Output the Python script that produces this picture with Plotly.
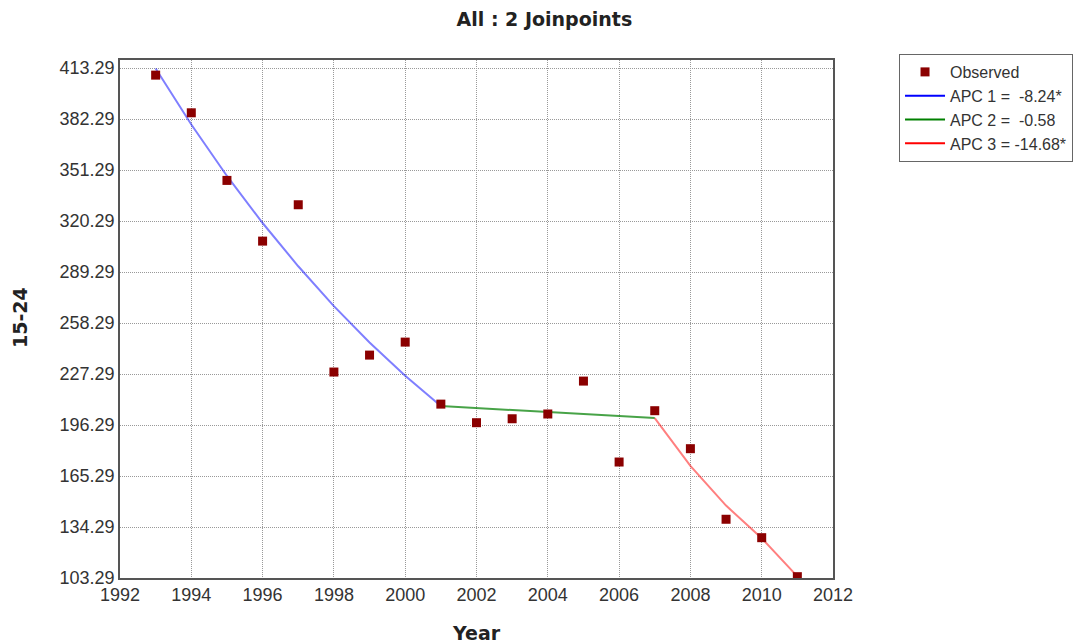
import plotly.graph_objects as go

# Observed rates for ages 15-24
years = list(range(1993, 2012))
observed = [409.0, 386.1, 345.0, 308.1, 330.2, 228.5, 238.8, 246.7, 209.0,
            197.7, 200.1, 203.0, 223.0, 173.8, 205.0, 181.9, 139.0, 127.8, 104.1]

# Joinpoint model segments (fitted values per year)
seg1_years = list(range(1993, 2002))
seg1_fit = [413.0, 379.0, 347.7, 319.1, 292.8, 268.6, 246.5, 226.2, 207.8]
seg2_years = list(range(2001, 2008))
seg2_fit = [207.8, 206.6, 205.4, 204.2, 203.0, 201.8, 200.5]
seg3_years = list(range(2007, 2012))
seg3_fit = [200.5, 171.5, 147.3, 127.5, 104.3]

apc_labels = ["APC 1 =  -8.24*", "APC 2 =  -0.58", "APC 3 = -14.68*"]
apc_colors = ["#0000ff", "#008000", "#ff0000"]
seg_colors = ["rgba(0,0,255,0.5)", "rgba(0,128,0,0.72)", "rgba(255,0,0,0.5)"]

y_ticks = [103.29 + 31 * k for k in range(11)]
x_ticks = list(range(1992, 2013, 2))

fig = go.Figure()

segments = [(seg1_years, seg1_fit), (seg2_years, seg2_fit), (seg3_years, seg3_fit)]
for (sx, sy), col in zip(segments, seg_colors):
    fig.add_trace(go.Scatter(x=sx, y=sy, mode="lines", line=dict(color=col, width=2),
                             showlegend=False, hoverinfo="skip"))

fig.add_trace(go.Scatter(x=years, y=observed, mode="markers", name="Observed",
                         marker=dict(symbol="square", size=9, color="#8b0000")))

# legend entries for the segment lines
for label, col in zip(apc_labels, apc_colors):
    fig.add_trace(go.Scatter(x=[None], y=[None], mode="lines", name=label,
                             line=dict(color=col, width=2)))

axis_font = dict(family="Liberation Sans, Arial, sans-serif", size=18, color="#333333")
bold_font = dict(family="DejaVu Sans, Verdana, sans-serif", size=19, color="#222222")
grid = dict(showgrid=True, gridcolor="#999999", griddash="1px,1px", gridwidth=1,
            showline=True, linecolor="#555555", linewidth=1.5, mirror=True,
            ticks="", tickfont=axis_font, zeroline=False)

fig.update_layout(
    width=1078, height=644,
    margin=dict(l=120, r=245, t=60, b=66, autoexpand=False),
    paper_bgcolor="white", plot_bgcolor="white",
    title=dict(text="<b>All : 2 Joinpoints</b>", xref="container", x=0.505, xanchor="center",
               yref="container", y=1 - 19 / 644, yanchor="middle", font=bold_font),
    legend=dict(x=1.0926, y=1.0116, xanchor="left", yanchor="top",
                bgcolor="white", bordercolor="#666666", borderwidth=1,
                font=dict(family="Liberation Sans, Arial, sans-serif", size=16, color="#333333"),
                itemwidth=40, tracegroupgap=0),
    xaxis=dict(range=[1992, 2012], tickvals=x_ticks, ticktext=[str(v) for v in x_ticks], **grid),
    yaxis=dict(range=[103.29, 418.2], tickvals=y_ticks, ticktext=[f"{v:.2f}" for v in y_ticks], **grid),
    annotations=[
        dict(text="<b>Year</b>", xref="paper", yref="paper", x=0.5, y=-(633 - 578) / 518,
             xanchor="center", yanchor="middle", showarrow=False, font=bold_font),
        dict(text="<b>15-24</b>", xref="paper", yref="paper", x=-(120 - 20) / 713, y=(578 - 318) / 518,
             xanchor="center", yanchor="middle", showarrow=False, textangle=-90, font=bold_font),
    ],
)

fig.write_html("out.html")
